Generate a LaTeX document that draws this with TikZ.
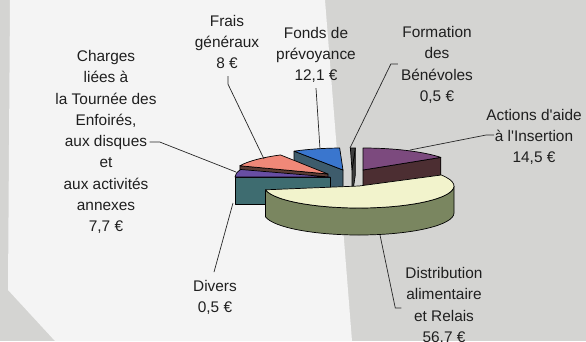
\documentclass[tikz,border=0pt]{standalone}
\usepackage{fontspec}
\setmainfont{Liberation Sans}
\definecolor{paper}{RGB}{212,212,210}
\definecolor{paperlight}{RGB}{244,244,244}
\definecolor{distTop}{RGB}{242,243,204}
\definecolor{distSide}{RGB}{122,134,96}
\definecolor{actTop}{RGB}{124,74,126}
\definecolor{actSide}{RGB}{76,46,50}
\definecolor{forTop}{RGB}{62,62,62}
\definecolor{fonTop}{RGB}{58,118,206}
\definecolor{fonSide}{RGB}{62,92,108}
\definecolor{fraTop}{RGB}{240,136,120}
\definecolor{fraSide}{RGB}{92,60,52}
\definecolor{chaTop}{RGB}{104,78,164}
\definecolor{chaSide}{RGB}{62,108,112}
\tikzset{
  lbl/.style={align=center,inner sep=0pt,font=\fontsize{15.4}{21.3}\selectfont,text=black!88},
  lead/.style={black!85,line width=0.7pt},
  slice/.style={draw=black,line width=0.7pt,line join=round},
  pie/.style={x radius=95pt,y radius=22pt}
}
\begin{document}
\begin{tikzpicture}[x=1pt,y=1pt]
\useasboundingbox (0,0) rectangle (586,-341);
\clip (0,0) rectangle (586,-341);
\fill[paper] (0,0) rectangle (586,-341);
\fill[paperlight] (10,0) -- (325,0) -- (352,-341) -- (55,-341) -- (8,-290) -- cycle;

\coordinate (cFor) at (352,-170);
\coordinate (cFon) at (343,-170);
\coordinate (cAct) at (363,-170);
\coordinate (cFra) at (328,-174);
\coordinate (cCha) at (330,-177);
\coordinate (cDis) at (359,-186);

\filldraw[slice,fill=forTop](cFor)--++(88:95pt and 22pt)--++(0,-27)--++(268:95pt and 22pt)--cycle;
\filldraw[slice,fill=forTop](cFor)--++(88:95pt and 22pt)arc[pie,start angle=88,end angle=91]--cycle;

\filldraw[slice,fill=fonSide](cFon)--++(121:95pt and 22pt)--++(0,-27)--++(301:95pt and 22pt)--cycle;
\filldraw[slice,fill=fonTop](cFon)--++(92:95pt and 22pt)arc[pie,start angle=92,end angle=121]--cycle;

\filldraw[slice,fill=actSide](cAct)--++(35:95pt and 22pt)--++(0,-27)--++(215:95pt and 22pt)--cycle;
\filldraw[slice,fill=actTop](cAct)--++(35:95pt and 22pt)arc[pie,start angle=35,end angle=90]--cycle;

\filldraw[slice,fill=fraSide](cFra)--++(158:95pt and 22pt)--++(0,-27)--++(338:95pt and 22pt)--cycle;
\filldraw[slice,fill=fraTop](cFra)--++(120:95pt and 22pt)arc[pie,start angle=120,end angle=158]--cycle;

\filldraw[slice,fill=chaSide](cCha)--++(180:95pt and 22pt)--++(0,-27)--++(0:95pt and 22pt)--cycle;
\filldraw[slice,fill=chaTop](cCha)--++(160:95pt and 22pt)arc[pie,start angle=160,end angle=180]--cycle;

\filldraw[slice,fill=distSide](cDis)++(190:95pt and 22pt)arc[pie,start angle=190,end angle=360]--++(0,-27)arc[pie,start angle=360,end angle=190]--cycle;
\filldraw[slice,fill=distTop](cDis)--++(190:95pt and 22pt)arc[pie,start angle=190,end angle=390]--cycle;

\coordinate (pCha) at (236,-172);
\coordinate (pFra) at (264,-159);
\coordinate (pFon) at (320,-149);
\coordinate (pFor) at (350,-148);
\coordinate (pAct) at (410,-150);
\coordinate (pDiv) at (233,-203);
\coordinate (pDis) at (380,-235);

\node[lbl](lblCha)at(106,-142){Charges\\liées à\\la Tournée des\\Enfoirés,\\aux disques\\et\\aux activités\\annexes\\7,7 €};
\node[lbl](lblFra)at(227,-42){Frais\\généraux\\8 €};
\node[lbl](lblFon)at(316,-55){Fonds de\\prévoyance\\12,1 €};
\node[lbl](lblFor)at(437,-65){Formation\\des\\Bénévoles\\0,5 €};
\node[lbl](lblAct)at(534,-137){Actions d\textquotesingle aide\\à l\textquotesingle Insertion\\14,5 €};
\node[lbl](lblDiv)at(215,-297.5){Divers\\0,5 €};
\node[lbl](lblDis)at(444,-306){Distribution\\alimentaire\\et Relais\\56,7 €};

\draw[lead]([xshift=-7pt]lblCha.east)--([xshift=3pt]lblCha.east)--(pCha);
\draw[lead]([xshift=1pt,yshift=-7pt]lblFra.south)--++(0,-8)--(pFra);
\draw[lead]([yshift=-5pt]lblFon.south)--(pFon);
\draw[lead]([xshift=-3pt,yshift=1pt]lblFor.west)--++(-7,0)--(pFor);
\draw[lead]([xshift=8pt,yshift=2pt]lblAct.west)--([yshift=2pt]lblAct.west)--(pAct);
\draw[lead]([xshift=-1pt,yshift=8pt]lblDiv.north)--(pDiv);
\draw[lead]([xshift=-4pt,yshift=-2pt]lblDis.west)--++(-6,0)--(pDis);
\end{tikzpicture}
\end{document}
